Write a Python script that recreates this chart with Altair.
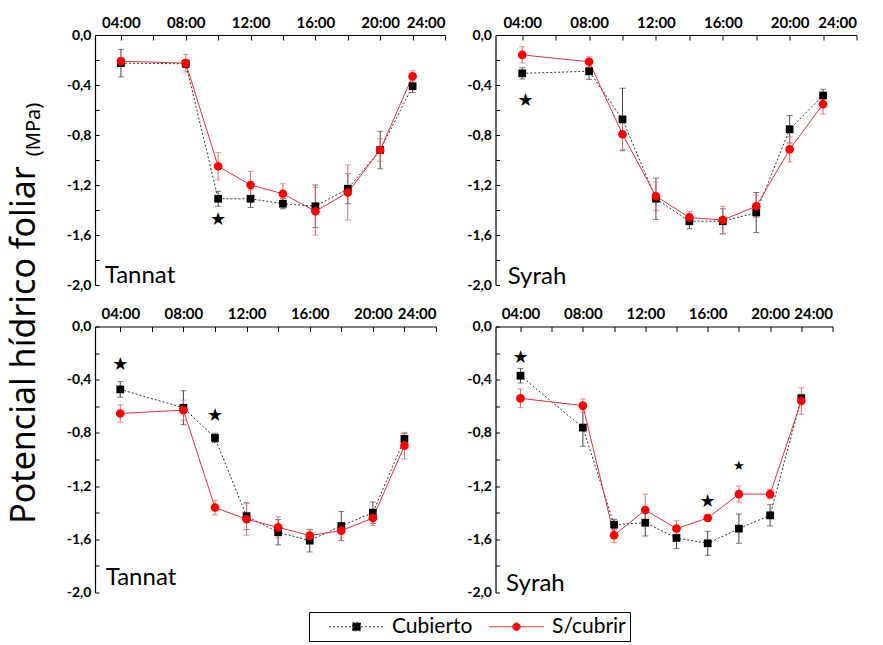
import altair as alt
import pandas as pd

# Sampling times (h)
HOURS = [4, 8, 10, 12, 14, 16, 18, 20, 22]
SERIES = ["Cubierto", "S/cubrir"]

# Tannat, upper panel
tan_a_cub = [-0.225, -0.23, -1.31, -1.31, -1.35, -1.37, -1.23, -0.92, -0.41]
tan_a_cub_err = [0.11, 0.03, 0.06, 0.07, 0.04, 0.17, 0.12, 0.15, 0.05]
tan_a_sc = [-0.21, -0.225, -1.05, -1.20, -1.27, -1.41, -1.26, -0.92, -0.33]
tan_a_sc_err = [0.03, 0.07, 0.11, 0.11, 0.08, 0.19, 0.22, 0.09, 0.045]
tan_a_star_hour = [10]
tan_a_star_psi = [-1.48]
tan_a_star_size = [18]

# Syrah, upper panel
syr_a_cub = [-0.307, -0.29, -0.675, -1.31, -1.49, -1.49, -1.42, -0.754, -0.484]
syr_a_cub_err = [0.045, 0.065, 0.25, 0.165, 0.06, 0.10, 0.16, 0.11, 0.05]
syr_a_sc = [-0.159, -0.214, -0.794, -1.29, -1.46, -1.48, -1.37, -0.915, -0.553]
syr_a_sc_err = [0.065, 0.04, 0.12, 0.115, 0.05, 0.11, 0.09, 0.10, 0.08]
syr_a_star_hour = [4.2]
syr_a_star_psi = [-0.53]
syr_a_star_size = [18]

# Tannat, lower panel
tan_b_cub = [-0.473, -0.611, -0.838, -1.426, -1.547, -1.61, -1.50, -1.40, -0.845]
tan_b_cub_err = [0.058, 0.128, 0.035, 0.10, 0.095, 0.085, 0.11, 0.08, 0.04]
tan_b_sc = [-0.654, -0.629, -1.361, -1.449, -1.51, -1.572, -1.535, -1.44, -0.896]
tan_b_sc_err = [0.065, 0.075, 0.055, 0.12, 0.08, 0.045, 0.055, 0.055, 0.10]
tan_b_star_hour = [4, 10]
tan_b_star_psi = [-0.29, -0.67]
tan_b_star_size = [18, 18]

# Syrah, lower panel
syr_b_cub = [-0.37, -0.76, -1.49, -1.475, -1.59, -1.63, -1.52, -1.42, -0.54]
syr_b_cub_err = [0.055, 0.14, 0.04, 0.10, 0.08, 0.09, 0.11, 0.08, 0.03]
syr_b_sc = [-0.54, -0.595, -1.57, -1.38, -1.52, -1.44, -1.26, -1.26, -0.56]
syr_b_sc_err = [0.07, 0.05, 0.055, 0.12, 0.06, 0.025, 0.06, 0.035, 0.10]
syr_b_star_hour = [4, 16, 18]
syr_b_star_psi = [-0.24, -1.32, -1.05]
syr_b_star_size = [18, 18, 13]

# Cultivar label anchor (hour, psi) per panel
label_pos = {
    "tan_a": (3.0, -1.984),
    "syr_a": (3.13, -1.99),
    "tan_b": (3.08, -1.94),
    "syr_b": (3.08, -1.99),
}

X_DOMAIN = [2.4, 24]
Y_DOMAIN = [-2.0, 0.0]
X_LABELS = [4, 8, 12, 16, 20, 24]
X_TICKS = [4, 6, 8, 10, 12, 14, 16, 18, 20, 22, 24]
Y_LABELS = [0.0, -0.4, -0.8, -1.2, -1.6, -2.0]
Y_TICKS = [round(-0.2 * i, 1) for i in range(11)]

LABEL_FONT = "Lato"
TEXT_FONT = "Lato"
TITLE_FONT = "Noto Sans"

BLACK = "#000000"
RED = "#ff0000"
RED_LINE = "#e8303a"
RED_ERR = "#e06a6a"
GREY_ERR = "#444444"

Y_LABEL_EXPR = "(datum.value < 0 ? '-' : '') + replace(format(abs(datum.value), '.1f'), '.', ',')"
X_LABEL_EXPR = "(datum.value < 10 ? '0' : '') + datum.value + ':00'"


def frame(cub, cub_err, sc, sc_err):
    rows = []
    for serie, vals, errs in ((SERIES[0], cub, cub_err), (SERIES[1], sc, sc_err)):
        for h, v, e in zip(HOURS, vals, errs):
            rows.append({"hora": h, "psi": v, "lo": v - e, "hi": v + e, "serie": serie})
    return pd.DataFrame(rows)


def xs(axis=None):
    return alt.X("hora:Q", scale=alt.Scale(domain=X_DOMAIN, nice=False, zero=False), axis=axis)


def ys(field="psi:Q", axis=None):
    return alt.Y(field, scale=alt.Scale(domain=Y_DOMAIN, nice=False, zero=False), axis=axis)


def panel(df, star_h, star_p, star_s, name, label_key, w, h,
          title_text=None, title_size=18, title_x=0, title_y=0, legend=None):
    base = alt.Chart(df)

    y_kw = dict(
        orient="left", values=Y_LABELS, ticks=False, grid=False,
        domain=True, domainColor=BLACK, domainWidth=1.2,
        labelExpr=Y_LABEL_EXPR,
        labelFont=LABEL_FONT, labelFontSize=14, labelFontWeight="bold", labelColor=BLACK,
        labelPadding=4,
    )
    if title_text:
        y_axis = alt.Axis(
            title=title_text, titleFont=TITLE_FONT, titleFontSize=title_size,
            titleFontWeight="normal", titleColor=BLACK, titleAngle=270,
            titleAlign="center", titleBaseline="middle",
            titleX=title_x, titleY=title_y, **y_kw)
    else:
        y_axis = alt.Axis(title=None, **y_kw)
    x_axis = alt.Axis(
        orient="top", values=X_LABELS, ticks=False, grid=False,
        domain=True, domainColor=BLACK, domainWidth=1.2,
        labelExpr=X_LABEL_EXPR,
        labelFont=LABEL_FONT, labelFontSize=15, labelFontWeight="bold", labelColor=BLACK,
        labelPadding=5, title=None,
    )
    # inward tick marks along the top and left edges
    x_ticks = alt.Axis(orient="bottom", offset=-h, values=X_TICKS, labels=False,
                       domain=False, ticks=True, tickSize=5, tickColor=BLACK,
                       tickWidth=1, grid=False, title=None)
    y_ticks = alt.Axis(orient="right", offset=-w, values=Y_TICKS, labels=False,
                       domain=False, ticks=True, tickSize=4, tickColor=BLACK,
                       tickWidth=1, grid=False, title=None)

    cub = base.transform_filter(alt.datum.serie == SERIES[0])
    sc = base.transform_filter(alt.datum.serie == SERIES[1])

    cub_err = cub.mark_errorbar(ticks=True, size=6, thickness=1, color=GREY_ERR).encode(
        x=xs(x_axis), y=ys("lo:Q", y_axis), y2="hi:Q")
    sc_err = sc.mark_errorbar(ticks=True, size=6, thickness=1, color=RED_ERR).encode(
        x=xs(x_ticks), y=ys("lo:Q", y_ticks), y2="hi:Q")
    cub_line = cub.mark_line(color="#333333", strokeWidth=1, strokeDash=[2, 2]).encode(x=xs(), y=ys())
    sc_line = sc.mark_line(color=RED_LINE, strokeWidth=1).encode(x=xs(), y=ys())
    cub_pts = cub.mark_point(shape="square", filled=True, size=60, color=BLACK, opacity=1).encode(x=xs(), y=ys())
    sc_pts = sc.mark_point(shape="circle", filled=True, size=75, color=RED, opacity=1).encode(x=xs(), y=ys())

    stars = alt.Chart(pd.DataFrame({"hora": star_h, "psi": star_p, "tam": star_s,
                                    "t": ["★"] * len(star_h)})).mark_text(
        font="DejaVu Sans", color=BLACK, baseline="middle", align="center").encode(
        x=xs(), y=ys(), text="t:N", size=alt.Size("tam:Q", scale=None, legend=None))

    lh, lp = label_pos[label_key]
    label = alt.Chart(pd.DataFrame({"hora": [lh], "psi": [lp], "t": [name]})).mark_text(
        font=TEXT_FONT, fontSize=24, color=BLACK, align="left", baseline="alphabetic").encode(
        x=xs(), y=ys(), text="t:N")

    layers = [cub_err, sc_err, cub_line, sc_line, cub_pts, sc_pts, stars, label]
    if legend is not None:
        layers.append(legend)
    return alt.layer(*layers).resolve_axis(x="independent", y="independent").properties(width=w, height=h)


# legend symbols: a 55 px line with the series marker at its centre (path units of 10 px)
SYM_CUB = "M-2.75,0H2.75M-0.4,-0.4H0.4V0.4H-0.4Z"
SYM_SC = "M-2.75,0H2.75M-0.38,0A0.38,0.38 0 1,0 0.38,0A0.38,0.38 0 1,0 -0.38,0Z"


def legend_layer(df):
    leg = alt.Legend(
        title=None, orient="none", legendX=214, legendY=577, direction="horizontal",
        symbolSize=400, symbolOffset=33, symbolStrokeWidth=1, symbolOpacity=1,
        labelFont=TEXT_FONT, labelFontSize=21, labelColor=BLACK, labelOffset=25,
        columnPadding=0, padding=4, strokeColor=BLACK, fillColor="white",
        cornerRadius=0,
    )
    return alt.Chart(df).transform_filter("false").mark_point(filled=True, opacity=1).encode(
        x=xs(), y=ys(),
        fill=alt.Fill("serie:N", scale=alt.Scale(domain=SERIES, range=[BLACK, RED]), legend=leg),
        stroke=alt.Stroke("serie:N", scale=alt.Scale(domain=SERIES, range=["#333333", RED_LINE]), legend=leg),
        shape=alt.Shape("serie:N", scale=alt.Scale(domain=SERIES, range=[SYM_CUB, SYM_SC]), legend=leg),
        strokeDash=alt.StrokeDash("serie:N", scale=alt.Scale(domain=SERIES, range=[[2, 2], [1, 0]]), legend=leg),
    )


df_ta = frame(tan_a_cub, tan_a_cub_err, tan_a_sc, tan_a_sc_err)
df_sa = frame(syr_a_cub, syr_a_cub_err, syr_a_sc, syr_a_sc_err)
df_tb = frame(tan_b_cub, tan_b_cub_err, tan_b_sc, tan_b_sc_err)
df_sb = frame(syr_b_cub, syr_b_cub_err, syr_b_sc, syr_b_sc_err)

p1 = panel(df_ta, tan_a_star_hour, tan_a_star_psi, tan_a_star_size, "Tannat", "tan_a", 350, 250,
           title_text="(MPa)", title_size=20, title_x=-62, title_y=94)
p2 = panel(df_sa, syr_a_star_hour, syr_a_star_psi, syr_a_star_size, "Syrah", "syr_a", 361, 250)
p3 = panel(df_tb, tan_b_star_hour, tan_b_star_psi, tan_b_star_size, "Tannat", "tan_b", 341, 266,
           title_text="Potencial hídrico foliar", title_size=34, title_x=-71, title_y=18,
           legend=legend_layer(df_tb))
p4 = panel(df_sb, syr_b_star_hour, syr_b_star_psi, syr_b_star_size, "Syrah", "syr_b", 337, 266)

chart = alt.concat(
    p1, p2, p3, p4, columns=2, bounds="flush",
    spacing=alt.RowColnumber(row=41.5, column=50.5),
).properties(
    padding={"left": 6, "top": 15, "right": 2, "bottom": 0},
    background="white",
).configure_view(stroke=None)

chart.save("out.html", embed_options={"renderer": "svg", "actions": False})
